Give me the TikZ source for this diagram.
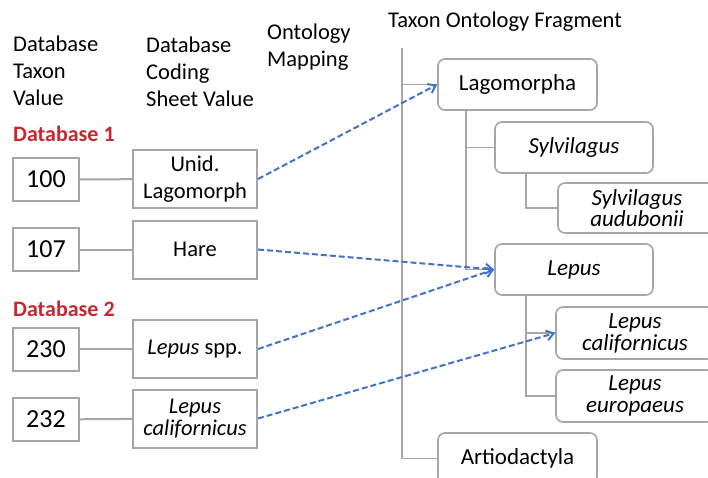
\documentclass[tikz,border=0pt]{standalone}
\usepackage{fontspec}
\setmainfont{Carlito}
\usetikzlibrary{arrows.meta}
\definecolor{boxgray}{HTML}{A6A6A6}
\definecolor{mapblue}{HTML}{4472C4}
\definecolor{dbred}{HTML}{C5282F}
\begin{document}
\begin{tikzpicture}[x=1pt,y=-1pt,
  hdr/.style={anchor=base west,inner sep=0pt,font=\fontsize{22.5}{26}\selectfont,text=black},
  dblab/.style={anchor=base west,inner sep=0pt,font=\fontsize{22}{26}\selectfont\bfseries,text=dbred},
  numbox/.style={draw=boxgray,line width=2pt,minimum width=66pt,minimum height=43pt,inner sep=0pt,font=\fontsize{26}{30}\selectfont},
  codebox/.style={draw=boxgray,line width=2pt,minimum width=124pt,minimum height=58pt,inner sep=0pt,align=center,font=\fontsize{22.5}{26}\selectfont},
  taxbox/.style={draw=boxgray,line width=1.6pt,rounded corners=7pt,minimum width=158pt,minimum height=51pt,inner sep=0pt,align=center,font=\fontsize{23}{26}\selectfont},
  link/.style={draw=boxgray,line width=2pt},
  tree/.style={draw=boxgray,line width=1.8pt},
  map/.style={draw=mapblue,line width=2pt,dash pattern=on 6pt off 3pt,-{Straight Barb[length=7pt,width=10pt,line width=2pt]}}
]
\useasboundingbox (0,0) rectangle (708,478);
\clip (0,0) rectangle (708,478);
\fill[white] (0,0) rectangle (708,478);

% headers
\node[hdr] (h1a) at (13,52) {Database};
\node[hdr] (h1b) at (13,79) {Taxon};
\node[hdr] (h1c) at (13,106) {Value};
\node[hdr] (h2a) at (146,53) {Database};
\node[hdr] (h2b) at (146,80) {Coding};
\node[hdr] (h2c) at (146,107) {Sheet Value};
\node[hdr] (h3a) at (267,40) {Ontology};
\node[hdr] (h3b) at (267,67) {Mapping};
\node[hdr] (h4) at (388,28) {Taxon Ontology Fragment};

\node[dblab] (db1) at (13,142) {Database 1};
\node[dblab] (db2) at (13,316) {Database 2};

% left boxes
\node[numbox] (n100) at (46,179.5) {100};
\node[numbox] (n107) at (46,249.5) {107};
\node[numbox] (n230) at (46,349) {230};
\node[numbox] (n232) at (46,419.5) {232};

\node[codebox,font=\fontsize{22.5}{27}\selectfont] (c100) at (195,179) {Unid.\\Lagomorph};
\node[codebox] (c107) at (195,249.5) {Hare};
\node[codebox] (c230) at (195,349) {\textit{Lepus} spp.};
\node[codebox,font=\fontsize{22.5}{22.5}\selectfont\itshape] (c232) at (195,418.5) {Lepus\\californicus};

\draw[link] (n100) -- (c100);
\draw[link] (n107) -- (c107);
\draw[link] (n230) -- (c230);
\draw[link] (n232) -- (c232);

% taxonomy boxes
\node[taxbox,minimum width=159pt] (lago) at (517.5,84.5) {Lagomorpha};
\node[taxbox,font=\fontsize{23}{26}\selectfont\itshape] (sylv) at (574,147.5) {Sylvilagus};
\node[taxbox,minimum height=50pt,font=\fontsize{23}{21}\selectfont\itshape] (aud) at (637,208) {Sylvilagus\\audubonii};
\node[taxbox,font=\fontsize{23}{26}\selectfont\itshape] (lepus) at (574,269.5) {Lepus};
\node[taxbox,minimum height=52pt,font=\fontsize{23}{22}\selectfont\itshape] (cal) at (635,333) {Lepus\\californicus};
\node[taxbox,minimum height=52pt,font=\fontsize{23}{22}\selectfont\itshape] (eur) at (635,396) {Lepus\\europaeus};
\node[taxbox,minimum width=159pt] (art) at (517.5,458.5) {Artiodactyla};

% tree lines
\coordinate (top) at (402,48);
\draw[tree] (top) |- (art.west);
\draw[tree] (top |- lago.west) -- (lago.west);
\coordinate (lagoroot) at (466,110);
\draw[tree] (lagoroot) |- (lepus.west);
\draw[tree] (lagoroot |- sylv.west) -- (sylv.west);
\coordinate (sylvroot) at (526,173);
\draw[tree] (sylvroot) |- (aud.west);
\coordinate (leproot) at (526,295);
\draw[tree] (leproot) |- (eur.west);
\draw[tree] (leproot |- cal.west) -- (cal.west);

% mapping arrows
\draw[map] (c100.east) -- (lago.west);
\draw[map] (c107.east) -- (lepus.west);
\draw[map] (c230.east) -- (lepus.west);
\draw[map] (c232.east) -- (cal.west);
\end{tikzpicture}
\end{document}
